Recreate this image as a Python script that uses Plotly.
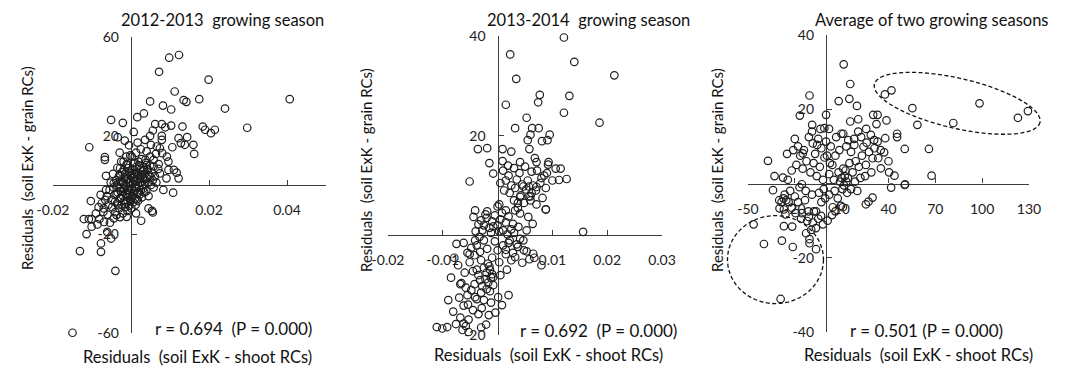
import math
import plotly.graph_objects as go

# ---------------- DATA ----------------
titles = ["2012-2013  growing season", "2013-2014  growing season", "Average of two growing seasons"]
r_labels = ["r = 0.694  (P = 0.000)", "r = 0.692  (P = 0.000)", "r = 0.501 (P = 0.000)"]
x_title = "Residuals  (soil ExK - shoot RCs)"
y_title = "Residuals  (soil ExK - grain RCs)"

p1_x = [0.0123, 0.0098, 0.0072, 0.0199, 0.0407, 0.0112, 0.0135, 0.0142, 0.0175, 0.0049, 0.0082, 0.0103, 0.0241, 0.0033, 0.0016,
        -0.0051, -0.0021, 0.0298, 0.0184, 0.0190, 0.0205, 0.0215, 0.0132, 0.0103, 0.0062, 0.0079, 0.0088, 0.0007, 0.0056, 0.0049,
        0.0079, 0.0079, 0.0122, 0.0144, 0.0138, 0.0160, 0.0162, 0.0128, 0.0106, -0.0034, -0.0016, -0.0107, -0.0005, -0.0067, -0.0067,
        -0.0029, -0.0064, 0.0017, 0.0025, 0.0013, 0.0051, 0.0074, 0.0092, 0.0110, 0.0117, 0.0122, 0.0096, -0.0028, 0.0049, 0.0064,
        0.0037, 0.0006, -0.0010, 0.0036, 0.0066, 0.0040, 0.0080, 0.0096, 0.0058, 0.0032, 0.0074, 0.0049, 0.0015, 0.0091, 0.0023,
        0.0002, -0.0019, 0.0019, 0.0058, 0.0071, 0.0040,
        -0.0150, -0.0040, -0.0131, -0.0077, -0.0077, -0.0051, -0.0114, -0.0101, -0.0121, -0.0108, -0.0101, -0.0081, -0.0103, -0.0061,
        -0.0054, 0.0026, 0.0056, 0.0054, 0.0108, 0.0083, 0.0045, 0.0013, -0.0011, -0.0037, -0.0071, -0.0075,
        -0.0062, -0.0055, -0.0050, -0.0048, -0.0045, -0.0042, -0.0040, -0.0038, -0.0036, -0.0034, -0.0032, -0.0030, -0.0029, -0.0027,
        -0.0026, -0.0024, -0.0023, -0.0021, -0.0020, -0.0019, -0.0018, -0.0017, -0.0016, -0.0015, -0.0014, -0.0013, -0.0012, -0.0011,
        -0.0010, -0.0009, -0.0008, -0.0007, -0.0006, -0.0005, -0.0004, -0.0003, -0.0002, -0.0001, 0.0000, 0.0001, 0.0002, 0.0003,
        0.0004, 0.0005, 0.0006, 0.0007, 0.0008, 0.0009, 0.0010, 0.0011, 0.0012, 0.0013, 0.0014, 0.0015, 0.0016, 0.0017, 0.0018,
        0.0019, 0.0020, 0.0021, 0.0022, 0.0023, 0.0024, 0.0025, 0.0026, 0.0027, 0.0028, 0.0029, 0.0030, 0.0031, 0.0032, 0.0033,
        0.0034, 0.0035, 0.0036, 0.0038, 0.0039, 0.0040, 0.0042, 0.0044, 0.0045, 0.0047, 0.0049, 0.0051, 0.0053, 0.0056, 0.0058,
        0.0061, 0.0065, 0.0070, -0.0058, -0.0066, -0.0070, -0.0060, -0.0044, -0.0028, -0.0052, -0.0046, -0.0035, -0.0025, -0.0012,
        -0.0002, -0.0083, -0.0090, -0.0078, -0.0086, -0.0069, -0.0064,
        -0.0041, -0.0033, -0.0025, -0.0017, -0.0009, -0.0001, 0.0007, 0.0015, -0.0037, -0.0029, -0.0021, -0.0013, -0.0005, 0.0003,
        0.0011, 0.0019, -0.0044, -0.0036, -0.0028, -0.0020, -0.0012, -0.0004, 0.0004, 0.0012, -0.0031, -0.0023, -0.0015, -0.0007,
        0.0001, 0.0009, 0.0027, 0.0035, 0.0043]
p1_y = [52.7, 51.6, 45.9, 42.7, 34.8, 37.9, 34.4, 33.7, 34.8, 33.9, 32.2, 30.6, 31.0, 29.0, 27.5,
        26.4, 25.2, 23.2, 23.7, 22.4, 21.0, 22.4, 23.7, 24.1, 24.7, 24.7, 23.4, 21.5, 22.1, 19.9,
        19.9, 18.3, 19.0, 19.4, 16.3, 16.3, 12.6, 17.0, 15.3, 19.4, 18.0, 15.3, 16.1, 11.3, 10.2,
        13.1, 3.7, 17.2, 14.5, 13.1, 16.3, 14.9, 11.5, 6.1, 5.0, 2.7, 6.1, 6.8, 11.5, 12.6,
        10.2, 8.8, 8.0, 18.3, 15.6, 13.6, 12.9, 9.5, 7.5, 6.1, 4.7, 3.3, 4.7, 2.7, 2.7,
        11.5, 9.5, 9.5, 10.2, 8.5, 8.1,
        -59.9, -34.8, -26.8, -27.1, -23.7, -21.7, -19.9, -16.9, -13.8, -13.8, -13.8, -13.8, -6.5, -19.0,
        -15.3, -14.5, -11.1, -10.5, -3.1, -2.0, -9.5, -11.5, -12.9, -12.2, -10.9, -7.4,
        -4.5, -2.0, -6.0, -9.0, -1.0, -4.0, -11.0, 2.0, -7.5, -3.0, 0.5, -9.5, -5.5, 4.0,
        -2.5, -8.0, 1.5, -11.5, -4.5, 6.0, -1.5, -6.5, 3.0, -9.0, -3.5, 0.0, -7.0, 8.5,
        -2.0, -10.5, 2.5, -5.0, 5.5, -8.5, -0.5, -3.5, 1.0, -6.0, 3.5, -9.5, -1.5, 6.5,
        -4.5, 0.5, -7.0, 4.5, -2.5, 9.0, -5.5, 1.5, -8.0, 5.0, -1.0, 7.5, -3.5, 2.5, -6.5,
        4.0, -0.5, 8.0, -4.0, 1.0, 6.0, -2.0, 3.5, 10.5, -5.0, 0.0, 5.5, -1.5, 2.5, 7.0,
        -3.0, 4.5, 0.5, 9.0, -2.5, 3.0, 6.5, 1.0, -4.5, 4.0, 8.0, 0.0, 5.0, 2.0, -1.0,
        3.5, 1.0, 6.5, -8.0, -6.0, -9.5, -12.0, -13.5, -13.0, 1.0, 4.5, 7.0, 9.5, 11.5,
        12.0, -9.0, -11.5, -4.0, -16.0, -15.0, -2.0,
        -6.8, -8.2, -5.2, -7.6, -4.2, -6.6, -3.4, -5.8, -3.6, -1.2, -2.8, -0.4, -2.2, -4.8,
        -0.8, -3.2, 0.8, -0.2, 1.8, 0.6, 2.2, 1.4, 2.8, 0.2, 3.6, 5.2, 4.4, 6.8,
        4.8, 3.2, 4.2, 2.4, 6.2]

p2_x = [0.0121, 0.0023, 0.0140, 0.0213, 0.0034, 0.0077, 0.0074, 0.0131, 0.0015, 0.0121, 0.0186, 0.0053, 0.0032, 0.0063, 0.0075,
        0.0060, 0.0095, 0.0055, 0.0081, 0.0091, -0.0036, -0.0019, 0.0009, 0.0025, 0.0058, -0.0015, 0.0009, -0.0008, -0.0051, 0.0071,
        0.0093, 0.0106, 0.0115, 0.0112, 0.0126, 0.0085, 0.0041,
        0.0010, 0.0020, 0.0030, 0.0040, 0.0050, 0.0062, 0.0072, 0.0080, 0.0090, 0.0100, 0.0005, 0.0015, 0.0025, 0.0035, 0.0045,
        0.0055, 0.0065, 0.0078, 0.0088, 0.0012, 0.0022, 0.0032, 0.0042, 0.0052, 0.0062, 0.0070, 0.0082, 0.0030, 0.0048, 0.0060,
        0.0037, 0.0071, 0.0088, 0.0057, 0.0047, 0.0092, 0.0019, 0.0068,
        0.0088, 0.0156, -0.0041, -0.0044, -0.0019, 0.0000, 0.0003, 0.0015, 0.0032, 0.0041, 0.0056, 0.0064, 0.0053, 0.0038, 0.0028,
        0.0041, 0.0047, 0.0037, 0.0041, 0.0060, 0.0071, 0.0057, -0.0033, -0.0041, -0.0038, -0.0019, -0.0032, 0.0015, 0.0048, 0.0053,
        0.0065, 0.0032, 0.0003, -0.0018, -0.0014, 0.0017, -0.0038, -0.0008, -0.0032, -0.0075, -0.0079, -0.0051, -0.0051, -0.0068,
        -0.0066,
        -0.0030, -0.0025, -0.0020, -0.0015, -0.0010, -0.0005, 0.0000, 0.0005, 0.0010, 0.0015, 0.0020, 0.0025, -0.0028, -0.0012,
        0.0003, -0.0035, 0.0008, -0.0022, -0.0008, 0.0018, -0.0040, 0.0030, 0.0022, -0.0005, 0.0010, 0.0035, 0.0028, 0.0000,
        -0.0025, -0.0048,
        0.0001, 0.0020, -0.0029, -0.0062, -0.0054, -0.0081, -0.0053, -0.0021, -0.0062, -0.0111, -0.0101, -0.0092, -0.0064, -0.0053,
        -0.0055, -0.0041,
        -0.0025, -0.0020, -0.0015, -0.0010, -0.0022, -0.0017, -0.0012, -0.0028, -0.0020, -0.0014, -0.0030, -0.0008, -0.0035, -0.0042,
        -0.0045, -0.0048, -0.0038, -0.0025, -0.0012, -0.0045, -0.0035, -0.0058, -0.0060, -0.0070, -0.0072, -0.0055, -0.0062, -0.0010,
        -0.0030, -0.0042, 0.0005, 0.0008, -0.0004, -0.0068, -0.0076, -0.0090, -0.0085, -0.0016, -0.0030, -0.0058,
        0.0020, 0.0037, 0.0058, 0.0025, 0.0045, 0.0067, 0.0080, 0.0015]
p2_y = [39.7, 36.3, 34.8, 32.1, 31.4, 28.2, 26.7, 28.0, 26.2, 24.6, 22.6, 23.6, 21.5, 21.5, 21.5,
        20.2, 20.2, 19.1, 18.9, 19.1, 17.3, 17.5, 17.3, 16.8, 17.3, 14.5, 14.9, 12.4, 10.8, 14.7,
        14.7, 13.4, 13.4, 11.1, 11.3, 12.0, 14.7,
        13.0, 12.0, 13.5, 12.5, 13.8, 12.8, 13.0, 11.5, 12.5, 11.0, 10.5, 11.0, 10.0, 11.2, 10.2,
        11.0, 10.0, 10.5, 9.5, 9.0, 8.5, 9.5, 8.0, 9.2, 8.5, 9.0, 7.5, 7.0, 6.5, 7.0,
        5.5, 6.2, 5.2, 7.8, 9.8, 14.2, 14.0, 15.5,
        5.2, 0.7, 5.0, 3.7, 4.8, 5.8, 6.2, 5.0, 5.0, 4.4, 3.7, 2.3, 1.0, 1.7, 2.3,
        -0.7, -1.0, 6.5, 7.7, 7.8, 9.7, 9.8, -0.3, -1.0, -2.0, -2.7, -3.3, -2.9, -3.0, -3.2,
        -3.7, -4.4, -5.4, -5.7, -6.9, -6.9, -6.9, -8.4, -9.0, -1.7, -4.5, -3.8, -5.4, -9.8,
        -9.6,
        3.0, 2.0, 3.5, 1.5, 2.8, 4.0, 2.0, 3.2, 1.0, 2.6, 3.8, 1.2, 1.0, 0.5,
        0.8, 2.2, 4.5, 4.2, 1.8, 0.2, 0.8, 0.5, -1.0, -1.2, -2.0, -1.8, -3.5, -3.0,
        -1.0, -2.5,
        -12.4, -12.0, -14.6, -14.1, -13.9, -15.3, -16.9, -17.9, -17.7, -18.4, -18.7, -18.4, -19.0, -19.4,
        -12.0, -12.4,
        -6.5, -7.5, -6.2, -7.8, -8.8, -9.5, -8.5, -10.2, -10.8, -11.2, -11.5, -10.0, -8.0, -9.8,
        -7.2, -11.0, -12.8, -13.0, -13.5, -15.0, -15.8, -10.5, -7.5, -12.5, -6.0, -3.5, -1.5, -4.5,
        -5.0, -4.0, -8.0, -14.0, -15.5, -16.5, -17.8, -13.0, -8.5, -16.0, -18.5, -18.2,
        -1.5, -2.3, -4.8, -5.0, -5.5, -4.5, -6.0, -3.8]

p3_x = [11.3, 15.5, -10.6, 8.1, 14.9, 19.8, 37.7, 41.9, 55.3, 58.5, 81.5, 98.3, 122.9, 129.3, -16.8,
        0.0, -8.9, -3.6, -1.1, 1.9, 15.5, 20.6, 30.2, 33.0, 32.3, 38.7, 25.7, 20.6, 9.8, 11.0,
        14.2, 28.7, 30.8, 33.0, 37.9, 45.5, 45.5, 50.4, 65.9, 67.6, -37.2, -27.6, -5.7, -8.5, -14.2,
        -14.9, 0.0, 18.1, 24.0, 0.6, 37.2, 29.8, 33.4, 25.5, 35.1, 40.4, 43.8, 50.6,
        -46.4, -39.8, -28.3, -21.3, -27.0, -21.7, -12.8, -10.6, -6.4, -10.6, -29.1, -26.0, -12.1, -34.0, -29.8,
        -27.2, -25.5, -15.5, 25.5, 27.2, 29.8, 41.7, 50.4, 3.8, -3.2, 4.3, 10.7, -11.3, -7.8, -6.4,
        -20.0, -18.0, -16.5, -19.0, -15.0, -12.5, -10.0, -8.0, -6.0, -4.0, -2.0, -1.0, -3.0, -7.0, -11.0,
        -9.0, -5.0, 2.0, 4.0, 6.0, 5.0, 8.0, 10.0, 11.0, 12.0, 13.0, 12.5, 11.5, 14.0, 10.5,
        9.0, 15.0, 17.0, 19.0, 21.0, 23.0, 16.0, 13.0, 8.5, 3.0, 6.5, 2.5, -1.5, -4.5, -9.0,
        -13.0, -17.0, -20.0, -23.0, -24.0, -26.5, -28.5, -27.0, -30.0, -22.0, -18.0, -15.5, -13.5, -11.0, -8.5,
        -5.0, -3.0, -0.5, 2.0, 5.5, 7.5, 9.5, 13.5, 16.0, 18.5, 20.0, 6.0, 1.0, -2.0, -6.5,
        -9.5, -16.0, -19.5, 22.0, 25.0, 27.5, 31.0, 26.0, 22.5, 18.0, 35.0, 40.0, 29.0, -33.0, -24.5,
        -22.0, -25.0, -21.0]
p3_y = [32.1, 26.8, 23.7, 22.2, 22.8, 20.9, 24.0, 25.1, 20.3, 15.8, 16.3, 21.6, 17.7, 19.5, 18.3,
        18.5, 15.8, 14.7, 14.9, 14.7, 16.7, 17.3, 18.5, 18.5, 16.0, 17.0, 14.7, 14.0, 13.4, 13.4,
        11.7, 13.1, 11.7, 11.3, 12.2, 13.4, 12.5, 9.3, 9.3, 2.1, 6.1, 1.6, 10.4, 10.8, 9.0,
        8.1, 11.3, 10.4, 9.9, 7.5, 8.4, 6.8, 6.8, 5.0, 4.1, 3.0, 2.1, -0.2,
        -11.0, -16.3, -15.4, -17.1, -11.5, -11.6, -13.4, -15.0, -17.7, -16.1, -31.1, -8.3, -10.1, -1.8, -6.7,
        -4.0, -4.5, -0.2, -5.6, -4.9, -3.8, -1.1, -0.4, -8.5, -8.7, -6.4, -6.4, -7.5, -7.5, -7.5,
        12.0, 10.0, 7.5, 5.0, 4.0, 6.0, 3.0, 5.5, 2.0, 4.5, 1.0, 7.0, 9.5, 8.0, 12.5,
        14.0, 12.0, 2.5, 5.0, 7.5, 1.0, 3.0, 1.5, 4.0, 2.0, 0.5, 3.5, -0.5, 1.5, -1.5,
        0.5, 5.5, 3.0, 6.0, 4.5, 7.5, 8.5, 10.0, 9.0, 10.0, 12.5, 5.5, -1.5, -2.5, -3.0,
        -2.0, -1.0, -3.5, -2.0, -5.0, -3.0, -5.0, -7.0, -4.5, -6.5, -5.0, -8.0, -4.5, -9.0, -10.5,
        -9.5, -5.0, -4.0, -3.0, -2.0, -4.0, -6.0, -2.5, -1.5, 0.5, -2.0, -7.5, -10.0, -11.0, -12.0,
        -12.5, -9.5, -8.0, 1.5, 2.0, 8.5, 9.5, 11.0, 12.5, 12.0, 9.0, 6.0, 3.0, 2.0, 1.0,
        3.5, 8.0, 9.0]

x_ranges = [(-0.02, 0.05), (-0.02, 0.03), (-50, 130)]
y_ranges = [(-60, 60), (-20, 40), (-40, 40)]
x_tickvals = [[-0.02, 0, 0.02, 0.04], [-0.02, -0.01, 0, 0.01, 0.02, 0.03], [-50, -20, 10, 40, 70, 100, 130]]
x_ticktext = [["-0.02", "", "0.02", "0.04"], ["-0.02", "-0.01", "", "0.01", "0.02", "0.03"],
              ["-50", "-20", "10", "40", "70", "100", "130"]]
y_tickvals = [[-60, -20, 20, 60], [-20, 0, 20, 40], [-40, -20, 0, 20, 40]]
y_ticktext = [["-60", "-20", "20", "60"], ["-20", "", "20", "40"], ["-40", "-20", "", "20", "40"]]

# ---------------- LAYOUT (pixels) ----------------
W, H = 1073, 370
# plot boxes: left, right, top, bottom (px)
boxes = [(53, 326, 37, 333), (388, 662, 36, 335), (748, 1029, 35, 332)]
FONT = "Lato"
AX = "#3c3c3c"
MK = "#1e1e1e"

fig = go.Figure()
xs = [p1_x, p2_x, p3_x]
ys = [p1_y, p2_y, p3_y]
layout = {}
for i in range(3):
    sfx = "" if i == 0 else str(i + 1)
    l, r, t, b = boxes[i]
    xr, yr = x_ranges[i], y_ranges[i]
    xd = [l / W, r / W]
    yd = [(H - b) / H, (H - t) / H]
    ypos0 = yd[0] + (0 - yr[0]) / (yr[1] - yr[0]) * (yd[1] - yd[0])
    xpos0 = xd[0] + (0 - xr[0]) / (xr[1] - xr[0]) * (xd[1] - xd[0])
    fig.add_trace(go.Scatter(
        x=xs[i], y=ys[i], mode="markers", xaxis="x" + sfx, yaxis="y" + sfx, cliponaxis=False,
        marker=dict(symbol="circle-open", size=7.5, color=MK, line=dict(width=1.2, color=MK)),
        showlegend=False, hoverinfo="skip"))
    common = dict(showgrid=False, zeroline=False, showline=True, linecolor=AX, linewidth=1.4,
                  ticks="inside", ticklen=5, tickwidth=1.3, tickcolor=AX, anchor="free", automargin=False,
                  layer="below traces", tickfont=dict(family=FONT, size=14, color="#222"))
    layout["xaxis" + sfx] = dict(domain=xd, range=list(xr), position=ypos0, tickmode="array",
                                 tickvals=x_tickvals[i], ticktext=x_ticktext[i], ticklabelstandoff=12, **common)
    layout["yaxis" + sfx] = dict(domain=yd, range=list(yr), position=xpos0, tickmode="array",
                                 tickvals=y_tickvals[i], ticktext=y_ticktext[i], ticklabelstandoff=9, **common)
fig.update_layout(**layout)

ann = []
title_pos = [(222, 20), (588, 20), (932, 20)]
r_pos = [(233, 328), (598, 330), (926, 330)]
xt_pos = [(197, 357), (548, 355), (918, 355)]
yt_pos = [(27, 168), (366, 170), (717, 170)]
for i in range(3):
    ann.append(dict(text=titles[i], x=title_pos[i][0] / W, y=1 - title_pos[i][1] / H, xref="paper", yref="paper",
                    showarrow=False, xanchor="center", yanchor="middle", font=dict(family=FONT, size=16.5, color="#111")))
    ann.append(dict(text=r_labels[i], x=r_pos[i][0] / W, y=1 - r_pos[i][1] / H, xref="paper", yref="paper",
                    showarrow=False, xanchor="center", yanchor="middle", font=dict(family=FONT, size=17, color="#111")))
    ann.append(dict(text=x_title, x=xt_pos[i][0] / W, y=1 - xt_pos[i][1] / H, xref="paper", yref="paper",
                    showarrow=False, xanchor="center", yanchor="middle", font=dict(family=FONT, size=16.5, color="#111")))
    ann.append(dict(text=y_title, x=yt_pos[i][0] / W, y=1 - yt_pos[i][1] / H, xref="paper", yref="paper",
                    showarrow=False, xanchor="center", yanchor="middle", textangle=-90,
                    font=dict(family=FONT, size=15, color="#111")))

# dashed ellipses on the third panel (center in data units, semi-axes in px, tilt in degrees)
ellipses = [((84.0, 21.6), 85, 25, 13.0), ((-32.4, -20.5), 48, 44, 0.0)]
l, r, t, b = boxes[2]
xr, yr = x_ranges[2], y_ranges[2]
shapes = []
for (cx, cy), a, bb, ang in ellipses:
    cpx = l + (cx - xr[0]) / (xr[1] - xr[0]) * (r - l)
    cpy = b - (cy - yr[0]) / (yr[1] - yr[0]) * (b - t)
    th = math.radians(ang)
    pts = []
    for k in range(73):
        tt = 2 * math.pi * k / 72
        dx = a * math.cos(tt) * math.cos(th) - bb * math.sin(tt) * math.sin(th)
        dy = a * math.cos(tt) * math.sin(th) + bb * math.sin(tt) * math.cos(th)
        pts.append(((cpx + dx) / W, 1 - (cpy + dy) / H))
    path = "M " + " L ".join(f"{px:.5f},{py:.5f}" for px, py in pts) + " Z"
    shapes.append(dict(type="path", path=path, xref="paper", yref="paper",
                       line=dict(color="#111", width=1.3, dash="4px,2.5px")))

fig.update_layout(annotations=ann, shapes=shapes, width=W, height=H,
                  margin=dict(l=0, r=0, t=0, b=0, pad=0, autoexpand=False),
                  paper_bgcolor="white", plot_bgcolor="white", font=dict(family=FONT))
fig.write_html("out.html", config={"displayModeBar": False})
